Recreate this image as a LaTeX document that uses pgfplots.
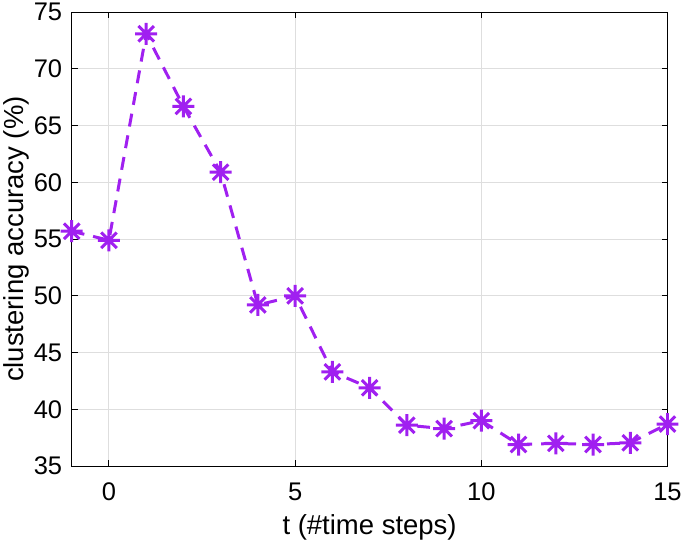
\documentclass[border=0pt]{standalone}
\usepackage{fontspec}
\setmainfont{Liberation Sans}
\usepackage{pgfplots}
\pgfplotsset{compat=1.18}
\definecolor{mpurple}{RGB}{160,32,240}
\pgfdeclareplotmark{mstar}{%
  \pgfpathmoveto{\pgfqpoint{-\pgfplotmarksize}{0pt}}\pgfpathlineto{\pgfqpoint{\pgfplotmarksize}{0pt}}%
  \pgfpathmoveto{\pgfqpoint{0pt}{-\pgfplotmarksize}}\pgfpathlineto{\pgfqpoint{0pt}{\pgfplotmarksize}}%
  \pgfpathmoveto{\pgfqpoint{-0.7071\pgfplotmarksize}{-0.7071\pgfplotmarksize}}\pgfpathlineto{\pgfqpoint{0.7071\pgfplotmarksize}{0.7071\pgfplotmarksize}}%
  \pgfpathmoveto{\pgfqpoint{-0.7071\pgfplotmarksize}{0.7071\pgfplotmarksize}}\pgfpathlineto{\pgfqpoint{0.7071\pgfplotmarksize}{-0.7071\pgfplotmarksize}}%
  \pgfusepathqstroke}
\begin{document}
\begin{tikzpicture}
\begin{axis}[
  scale only axis,
  width=596pt, height=454pt,
  xmin=-1, xmax=15, ymin=35, ymax=75,
  xtick={0,5,10,15}, ytick={35,40,...,75},
  grid=major,
  major grid style={draw=black!13, line width=1pt},
  axis line style={line width=1pt},
  tick style={black, line width=1pt},
  major tick length=6pt,
  tick align=inside,
  tick pos=both,
  clip=false,
  ticklabel style={font=\fontsize{25.5}{29}\selectfont},
  label style={font=\fontsize{27.5}{32}\selectfont},
  xticklabel style={yshift=-13pt},
  yticklabel style={xshift=-6pt},
  /pgf/number format/assume math mode=true,
  xlabel={t (\#time steps)},
  ylabel={clustering accuracy (\%)},
  xlabel style={yshift=-7pt},
  ylabel style={yshift=-2pt},
]
\addplot[color=mpurple, line width=3pt, dash pattern=on 13pt off 9pt,
  mark=mstar, mark size=11pt, mark options={solid, line width=3pt}]
coordinates {
(-1,55.7) (0,54.9) (1,73.1) (2,66.7) (3,60.9) (4,49.2) (5,50.0) (6,43.3)
(7,41.9) (8,38.6) (9,38.3) (10,39.0) (11,36.9) (12,37.0) (13,36.9) (14,37.05) (15,38.7)
};
\end{axis}
\end{tikzpicture}
\end{document}
